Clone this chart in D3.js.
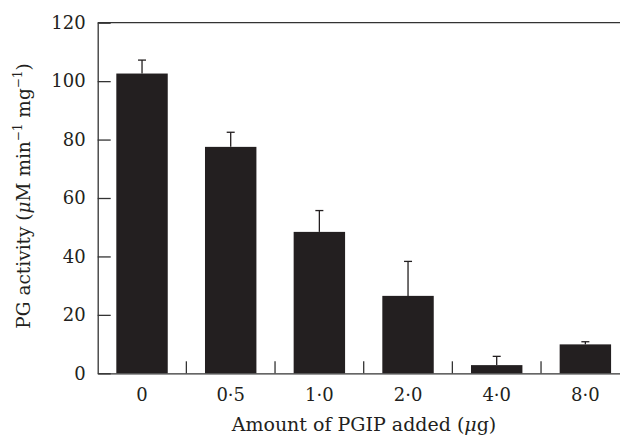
<!DOCTYPE html>
<html>
<head>
<meta charset="utf-8">
<script src="https://cdn.jsdelivr.net/npm/d3@7"></script>
<style>
    body { margin: 0; background: #fff; }
    text { font-family: "DejaVu Serif", serif; fill: #231f20; }
    .axis path, .axis line { stroke: #333; stroke-width: 1.3; }
</style>
</head>
<body>
<svg id="chart" width="620" height="437"></svg>
<script>
/* values */
var CATEGORIES = ["0", "0·5", "1·0", "2·0", "4·0", "8·0"];
var ACTIVITY = [102.6, 77.5, 48.4, 26.5, 2.8, 9.9];
var ERRORS = [4.6, 5.0, 7.3, 11.8, 3.0, 0.9];
var Y_TICKS = [0, 20, 40, 60, 80, 100, 120];

function init(){
    var svg = d3.select("#chart");
    var margin = {top: 22.7, left: 97.7};
    var plotBottom = 373.3;

    var x = d3.scaleBand().domain(CATEGORIES)
        .range([margin.left, margin.left + 532])
        .paddingInner(0.42).paddingOuter(0.21);
    var y = d3.scaleLinear().domain([0, 120]).range([plotBottom, margin.top]);

    var rows = CATEGORIES.map(function(c, i){
        return {cat: c, value: ACTIVITY[i], err: ERRORS[i]};
    });

    /* bars */
    svg.append("g").selectAll("rect")
        .data(rows).enter()
        .append("rect")
        .attr("x", function(d){ return x(d.cat); })
        .attr("y", function(d){ return y(d.value); })
        .attr("width", x.bandwidth())
        .attr("height", function(d){ return y(0) - y(d.value); })
        .attr("fill", "#231f20");

    /* error bars, upper half only */
    var err = svg.append("g").attr("stroke", "#231f20").attr("stroke-width", 1.3);
    rows.forEach(function(d){
        var cx = x(d.cat) + x.bandwidth() / 2;
        err.append("line").attr("x1", cx).attr("x2", cx)
            .attr("y1", y(d.value)).attr("y2", y(d.value + d.err));
        err.append("line").attr("x1", cx - 4).attr("x2", cx + 4)
            .attr("y1", y(d.value + d.err)).attr("y2", y(d.value + d.err));
    });

    /* x axis */
    var xAxis = svg.append("g")
        .attr("class", "axis")
        .attr("transform", "translate(0," + plotBottom + ")")
        .call(d3.axisBottom(x).tickSize(0).tickSizeOuter(0).tickPadding(15));
    xAxis.selectAll("text").attr("font-size", 18).attr("fill", "#231f20");

    /* small dividers between categories */
    var step = x.step();
    svg.append("g").attr("stroke", "#333").attr("stroke-width", 1.3)
        .selectAll("line")
        .data(CATEGORIES.slice(0, -1)).enter()
        .append("line")
        .attr("x1", function(c){ return x(c) + x.bandwidth() + (step - x.bandwidth()) / 2; })
        .attr("x2", function(c){ return x(c) + x.bandwidth() + (step - x.bandwidth()) / 2; })
        .attr("y1", plotBottom).attr("y2", plotBottom - 12);

    /* y axis */
    var yAxis = svg.append("g")
        .attr("class", "axis")
        .attr("transform", "translate(" + margin.left + ",0)")
        .call(d3.axisLeft(y).tickValues(Y_TICKS).tickSize(-13).tickSizeOuter(0).tickPadding(12));
    yAxis.selectAll("text").attr("font-size", 18).attr("fill", "#231f20");

    /* top frame line */
    svg.append("line")
        .attr("x1", margin.left).attr("x2", 620)
        .attr("y1", y(120)).attr("y2", y(120))
        .attr("stroke", "#333").attr("stroke-width", 1.3);

    /* axis titles */
    var xt = svg.append("text")
        .attr("x", 364).attr("y", 431)
        .attr("text-anchor", "middle")
        .attr("font-size", 19);
    xt.append("tspan").text("Amount of PGIP added (");
    xt.append("tspan").attr("font-style", "italic").text("μ");
    xt.append("tspan").text("g)");

    var yt = svg.append("text")
        .attr("transform", "translate(30,196) rotate(-90)")
        .attr("text-anchor", "middle")
        .attr("font-size", 18.5);
    yt.append("tspan").text("PG activity (");
    yt.append("tspan").attr("font-style", "italic").text("μ");
    yt.append("tspan").text("M min");
    yt.append("tspan").attr("font-size", 12).attr("dy", -8).text("−1");
    yt.append("tspan").attr("dy", 8).text(" mg");
    yt.append("tspan").attr("font-size", 12).attr("dy", -8).text("−1");
    yt.append("tspan").attr("dy", 8).text(")");
}

init();
</script>
</body>
</html>
